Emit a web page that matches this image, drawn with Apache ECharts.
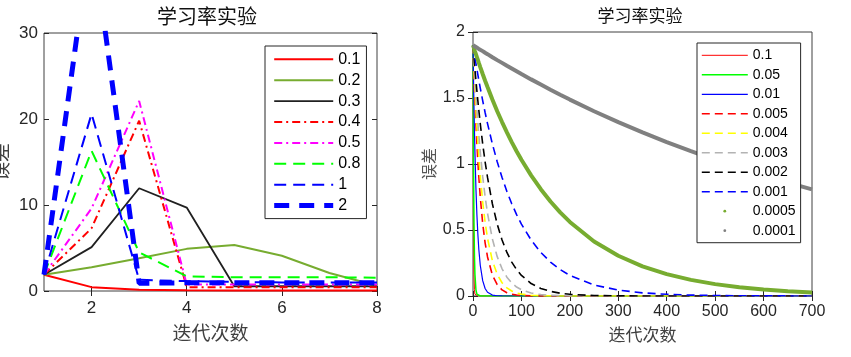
<!DOCTYPE html>
<html><head><meta charset="utf-8">
<script src="https://cdn.jsdelivr.net/npm/echarts@6/dist/echarts.min.js"></script>
<style>html,body{margin:0;padding:0;background:#fff}#c{width:851px;height:357px}</style>
</head><body><div id="c"></div>
<script>
// ---------- Left chart data ----------
const chartTitle = '学习率实验';
const xName = '迭代次数';
const yName = '误差';
const leftIters = [1, 2, 3, 4, 5, 6, 7, 8];
const leftXTicks = [2, 4, 6, 8];
const leftNames = ['0.1', '0.2', '0.3', '0.4', '0.5', '0.8', '1', '2'];
const L_0_1 = [1.9, 0.45, 0.15, 0.08, 0.06, 0.05, 0.05, 0.05];
const L_0_2 = [1.9, 2.75, 3.8, 4.9, 5.35, 4.1, 2.1, 0.6];
const L_0_3 = [1.9, 5.1, 11.95, 9.7, 0.55, 0.55, 0.55, 0.55];
const L_0_4 = [1.9, 7.3, 19.8, 0.45, 0.45, 0.45, 0.45, 0.45];
const L_0_5 = [1.9, 9.6, 22.1, 0.75, 0.75, 0.75, 0.75, 0.75];
const L_0_8 = [1.9, 16.3, 4.5, 1.7, 1.6, 1.6, 1.6, 1.55];
const L_1 = [1.9, 20.6, 1.3, 1.15, 1.05, 1.0, 1.0, 1.0];
const L_2 = [1.9, 42, 0.9, 0.95, 0.95, 0.95, 0.95, 0.95];

// ---------- Right chart data ----------
const rightIters = [0,1,2,3,4,6,8,10,12,15,20,25,30,40,50,60,70,80,90,100,120,140,160,180,200,250,300,350,400,450,500,550,600,650,700];
const rightNames = ['0.1', '0.05', '0.01', '0.005', '0.004', '0.003', '0.002', '0.001', '0.0005', '0.0001'];
const R_0_1 = [1.9,0.56,0.165,0.049,0.014,0.001,0,0,0,0,0,0,0,0,0,0,0,0,0,0,0,0,0,0,0,0,0,0,0,0,0,0,0,0,0];
const R_0_05 = [1.9,1.03,0.56,0.304,0.165,0.049,0.014,0.004,0.001,0,0,0,0,0,0,0,0,0,0,0,0,0,0,0,0,0,0,0,0,0,0,0,0,0,0];
const R_0_01 = [1.9,1.65,1.44,1.25,1.09,0.82,0.62,0.47,0.354,0.233,0.116,0.057,0.028,0.007,0.002,0.0004,0,0,0,0,0,0,0,0,0,0,0,0,0,0,0,0,0,0,0];
const R_0_005 = [1.9,1.786,1.68,1.578,1.483,1.31,1.157,1.022,0.903,0.75,0.55,0.403,0.296,0.159,0.0855,0.046,0.0247,0.0133,0.0071,0.0038,0.0011,0.0003,0,0,0,0,0,0,0,0,0,0,0,0,0];
const R_0_004 = [1.9,1.809,1.723,1.64,1.562,1.416,1.284,1.164,1.055,0.911,0.713,0.558,0.437,0.268,0.164,0.1005,0.0616,0.0377,0.0231,0.0142,0.0053,0.002,0.0007,0.0003,0.0001,0,0,0,0,0,0,0,0,0,0];
const R_0_003 = [1.9,1.831,1.765,1.70,1.639,1.522,1.414,1.312,1.218,1.09,0.906,0.753,0.626,0.432,0.298,0.206,0.1425,0.0984,0.068,0.047,0.0224,0.0107,0.0051,0.0024,0.0012,0.0002,0,0,0,0,0,0,0,0,0];
const R_0_002 = [1.9,1.853,1.807,1.762,1.719,1.635,1.556,1.48,1.408,1.306,1.152,1.017,0.898,0.699,0.544,0.424,0.330,0.257,0.2,0.156,0.0946,0.0574,0.0348,0.0211,0.0128,0.0037,0.001,0.0003,0,0,0,0,0,0,0];
const R_0_001 = [1.9,1.876,1.853,1.83,1.807,1.763,1.719,1.677,1.635,1.575,1.48,1.39,1.306,1.152,1.017,0.898,0.792,0.699,0.617,0.544,0.424,0.33,0.257,0.2,0.156,0.0834,0.0446,0.0239,0.0128,0.0068,0.0037,0.002,0.001,0.0006,0.0003];
const R_0_0005 = [1.9,1.888,1.877,1.866,1.854,1.832,1.81,1.788,1.766,1.734,1.682,1.631,1.583,1.489,1.40,1.318,1.24,1.166,1.097,1.032,0.914,0.809,0.716,0.634,0.561,0.413,0.305,0.225,0.166,0.122,0.090,0.066,0.049,0.036,0.027];
const R_0_0001 = [1.9,1.898,1.895,1.893,1.891,1.886,1.881,1.877,1.872,1.866,1.855,1.843,1.832,1.809,1.787,1.766,1.744,1.723,1.702,1.681,1.641,1.602,1.563,1.525,1.488,1.400,1.317,1.239,1.166,1.097,1.032,0.971,0.913,0.859,0.808];

const leftValues = [L_0_1, L_0_2, L_0_3, L_0_4, L_0_5, L_0_8, L_1, L_2];
const rightValues = [R_0_1, R_0_05, R_0_01, R_0_005, R_0_004, R_0_003, R_0_002, R_0_001, R_0_0005, R_0_0001];

// ---------- Styles ----------
const DASHDOT = [8, 4, 2, 4];
const leftStyles = [
  { color: '#FF0000', width: 2, type: 'solid' },
  { color: '#77AC30', width: 2, type: 'solid' },
  { color: '#202020', width: 1.8, type: 'solid' },
  { color: '#FF0000', width: 2, type: DASHDOT },
  { color: '#FF00FF', width: 2, type: DASHDOT },
  { color: '#00FF00', width: 2, type: [12, 7] },
  { color: '#0000FF', width: 2, type: [12, 7] },
  { color: '#0000FF', width: 5, type: [15, 10] }
];
const rightStyles = [
  { color: '#FF0000', width: 1, type: 'solid' },
  { color: '#00FF00', width: 1.5, type: 'solid' },
  { color: '#0000FF', width: 1.2, type: 'solid' },
  { color: '#FF0000', width: 1.6, type: [8, 5] },
  { color: '#FFFF00', width: 1.6, type: [8, 5] },
  { color: '#B3B3B3', width: 1.6, type: [8, 5] },
  { color: '#000000', width: 1.6, type: [8, 5] },
  { color: '#0000FF', width: 1.6, type: [8, 5] },
  { color: '#77AC30', width: 4, type: 'solid', dot: true },
  { color: '#808080', width: 4, type: 'solid', dot: true }
];

const NUMFONT = '"Liberation Sans", Arial, sans-serif';
const CJKFONT = '"Noto Sans CJK SC", sans-serif';
const AXC = '#262626';
const rName = n => n + ' '; // right-chart series names kept distinct from the left chart's

const series = [];
leftNames.forEach((n, k) => {
  const s = leftStyles[k];
  series.push({
    name: n, type: 'line', xAxisIndex: 0, yAxisIndex: 0, symbol: 'none', showSymbol: false,
    clip: true, animation: false,
    lineStyle: { color: s.color, width: s.width, type: s.type },
    itemStyle: { color: s.color },
    data: leftIters.map((x, i) => [x, leftValues[k][i]])
  });
});
rightNames.forEach((n, k) => {
  const s = rightStyles[k];
  series.push({
    name: rName(n), type: 'line', xAxisIndex: 2, yAxisIndex: 2, symbol: 'none', showSymbol: false,
    clip: true, animation: false,
    lineStyle: { color: s.color, width: s.width, type: s.type },
    itemStyle: { color: s.color },
    data: rightIters.map((x, i) => [x, rightValues[k][i]])
  });
});

const DOT_ICON = 'path://M0,0M46,10M21.6,5a1.4,1.4 0 1,0 2.8,0a1.4,1.4 0 1,0 -2.8,0';

function tickStyle(vals) {
  const t = { show: true, inside: true, length: 5, lineStyle: { color: AXC, width: 1 } };
  if (vals) t.customValues = vals;
  return t;
}

const option = {
  animation: false,
  backgroundColor: '#fff',
  title: [
    { text: chartTitle, left: 207, top: 6, textAlign: 'center', padding: 0,
      textStyle: { fontFamily: CJKFONT, fontSize: 20, fontWeight: 'normal', color: '#111' } },
    { text: chartTitle, left: 640, top: 7, textAlign: 'center', padding: 0,
      textStyle: { fontFamily: CJKFONT, fontSize: 17, fontWeight: 'normal', color: '#111' } }
  ],
  grid: [
    { left: 44, right: 474, top: 33, bottom: 66, containLabel: false, outerBoundsMode: 'none',
      show: true, borderColor: '#404040', borderWidth: 1, backgroundColor: 'transparent' },
    { left: 473, right: 39, top: 32, bottom: 61, containLabel: false, outerBoundsMode: 'none',
      show: true, borderColor: '#404040', borderWidth: 1, backgroundColor: 'transparent' }
  ],
  legend: [
    {
      orient: 'vertical', left: 265, top: 46, padding: [5.3, 6, 5, 6.7],
      itemWidth: 59, itemHeight: 12, itemGap: 4.9,
      borderColor: '#262626', borderWidth: 1, backgroundColor: '#fff',
      selectedMode: false,
      data: leftNames,
      textStyle: { fontFamily: NUMFONT, fontSize: 16, lineHeight: 16, color: '#000' },
      itemStyle: { opacity: 0 },
      lineStyle: { width: 'inherit' }
    },
    {
      orient: 'vertical', left: 697, top: 43, padding: [5.3, 5, 5, 4],
      itemWidth: 46, itemHeight: 10, itemGap: 5.49,
      borderColor: '#262626', borderWidth: 1, backgroundColor: '#fff',
      selectedMode: false,
      data: rightNames.map((n, k) => rightStyles[k].dot
        ? { name: rName(n), icon: DOT_ICON, itemStyle: { opacity: 1, borderWidth: 0 } }
        : { name: rName(n) }),
      formatter: n => n.trim(),
      textStyle: { fontFamily: NUMFONT, fontSize: 14, lineHeight: 14, color: '#000' },
      itemStyle: { opacity: 0 },
      lineStyle: { width: 'inherit' }
    }
  ],
  xAxis: [
    { gridIndex: 0, type: 'value', min: 1, max: 8, position: 'bottom',
      axisLine: { show: false }, splitLine: { show: false },
      axisTick: tickStyle(leftXTicks),
      axisLabel: { customValues: leftXTicks, margin: 9, color: AXC, fontFamily: NUMFONT, fontSize: 17 },
      name: xName, nameLocation: 'middle', nameGap: 32,
      nameTextStyle: { fontFamily: CJKFONT, fontSize: 19, color: '#404040' } },
    { gridIndex: 0, type: 'value', min: 1, max: 8, position: 'top',
      axisLine: { show: false }, splitLine: { show: false },
      axisTick: tickStyle(leftXTicks), axisLabel: { show: false } },
    { gridIndex: 1, type: 'value', min: 0, max: 700, interval: 100, position: 'bottom',
      axisLine: { show: false }, splitLine: { show: false },
      axisTick: tickStyle(),
      axisLabel: { margin: 8, color: AXC, fontFamily: NUMFONT, fontSize: 16 },
      name: xName, nameLocation: 'middle', nameGap: 30,
      nameTextStyle: { fontFamily: CJKFONT, fontSize: 17, color: '#404040' } },
    { gridIndex: 1, type: 'value', min: 0, max: 700, interval: 100, position: 'top',
      axisLine: { show: false }, splitLine: { show: false },
      axisTick: tickStyle(), axisLabel: { show: false } }
  ],
  yAxis: [
    { gridIndex: 0, type: 'value', min: 0, max: 30, interval: 10, position: 'left',
      axisLine: { show: false }, splitLine: { show: false },
      axisTick: tickStyle(),
      axisLabel: { margin: 6, color: AXC, fontFamily: NUMFONT, fontSize: 17 },
      name: yName, nameLocation: 'middle', nameGap: 34, nameRotate: 90,
      nameTextStyle: { fontFamily: CJKFONT, fontSize: 19, color: '#404040' } },
    { gridIndex: 0, type: 'value', min: 0, max: 30, interval: 10, position: 'right',
      axisLine: { show: false }, splitLine: { show: false },
      axisTick: tickStyle(), axisLabel: { show: false } },
    { gridIndex: 1, type: 'value', min: 0, max: 2, interval: 0.5, position: 'left',
      axisLine: { show: false }, splitLine: { show: false },
      axisTick: tickStyle(),
      axisLabel: { margin: 8, color: AXC, fontFamily: NUMFONT, fontSize: 16 },
      name: yName, nameLocation: 'middle', nameGap: 36, nameRotate: 90,
      nameTextStyle: { fontFamily: CJKFONT, fontSize: 16, color: '#555' } },
    { gridIndex: 1, type: 'value', min: 0, max: 2, interval: 0.5, position: 'right',
      axisLine: { show: false }, splitLine: { show: false },
      axisTick: tickStyle(), axisLabel: { show: false } }
  ],
  series: series
};

const chart = echarts.init(document.getElementById('c'), null, { renderer: 'canvas' });
chart.setOption(option);
</script>
</body></html>
